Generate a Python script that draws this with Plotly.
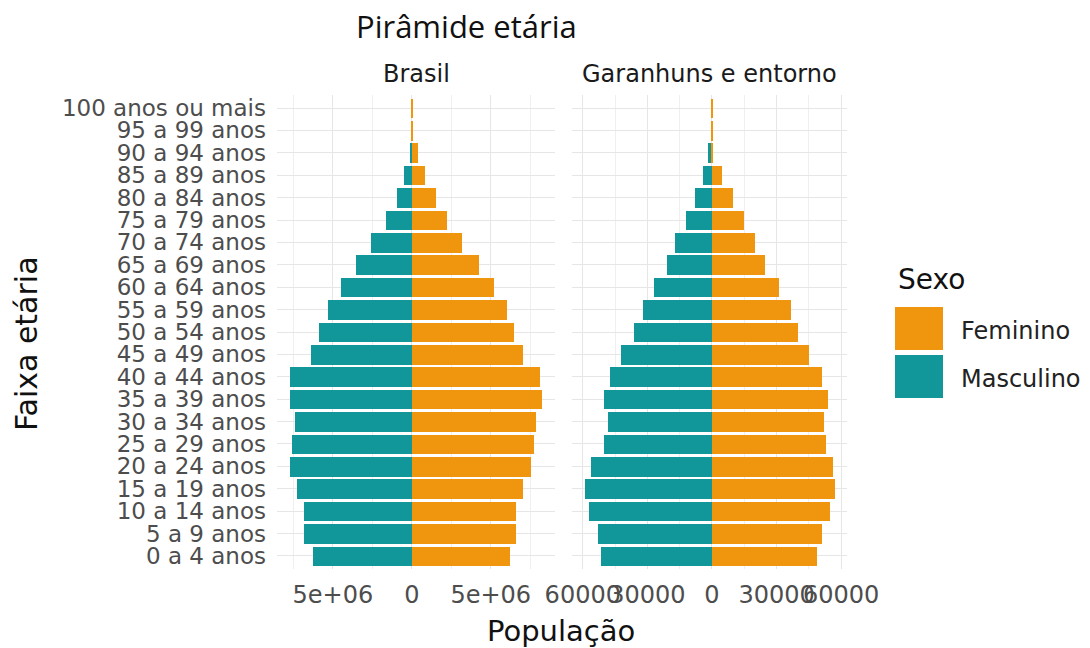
import plotly.graph_objects as go

# ---- data ----
faixas = ["0 a 4 anos", "5 a 9 anos", "10 a 14 anos", "15 a 19 anos", "20 a 24 anos",
          "25 a 29 anos", "30 a 34 anos", "35 a 39 anos", "40 a 44 anos", "45 a 49 anos",
          "50 a 54 anos", "55 a 59 anos", "60 a 64 anos", "65 a 69 anos", "70 a 74 anos",
          "75 a 79 anos", "80 a 84 anos", "85 a 89 anos", "90 a 94 anos", "95 a 99 anos",
          "100 anos ou mais"]

brasil_masc = [6.28e6, 6.84e6, 6.84e6, 7.26e6, 7.69e6, 7.56e6, 7.43e6, 7.69e6, 7.74e6, 6.41e6,
               5.88e6, 5.31e6, 4.50e6, 3.55e6, 2.59e6, 1.61e6, 0.93e6, 0.51e6, 0.09e6, 0.04e6,
               0.01e6]
brasil_fem = [6.22e6, 6.60e6, 6.62e6, 7.04e6, 7.56e6, 7.71e6, 7.88e6, 8.27e6, 8.15e6, 7.05e6,
              6.45e6, 6.05e6, 5.22e6, 4.27e6, 3.18e6, 2.23e6, 1.55e6, 0.85e6, 0.38e6, 0.10e6,
              0.02e6]

gar_masc = [51400, 53100, 57200, 59200, 56000, 50300, 48300, 50300, 47200, 42100,
            36000, 32000, 27100, 20900, 17000, 12060, 8040, 4330, 1900, 300, 100]
gar_fem = [49000, 51000, 54900, 56900, 56000, 53100, 52100, 54100, 51000, 44900,
           39800, 36800, 30900, 24700, 19800, 15000, 9740, 4640, 400, 400, 150]

paineis = ["Brasil", "Garanhuns e entorno"]
sexos = ["Feminino", "Masculino"]
cores = {"Feminino": "#F0960E", "Masculino": "#11979A"}

brasil_ticks = [-5e6, 0, 5e6]
brasil_ticktext = ["5e+06", "0", "5e+06"]
brasil_minor = [-7.5e6, -2.5e6, 2.5e6, 7.5e6]
gar_ticks = [-60000, -30000, 0, 30000, 60000]
gar_ticktext = ["60000", "30000", "0", "30000", "60000"]
gar_minor = [-45000, -15000, 15000, 45000]

# ---- layout geometry (pixels) ----
W, H = 1090, 648
def px(x):
    return x / W
def py(y):
    return 1 - y / H

panel_top, panel_bot = 94.6, 569.4
left_dom = [px(277), px(555)]
right_dom = [px(572), px(847)]

def expanded(neg, pos):
    lo = -max(neg)
    hi = max(pos)
    pad = 0.05 * (hi - lo)
    return [lo - pad, hi + pad]

fig = go.Figure()

bar_w = 0.88
for masc, fem, xa, ya in [(brasil_masc, brasil_fem, "x", "y"), (gar_masc, gar_fem, "x2", "y2")]:
    fig.add_trace(go.Bar(y=faixas, x=[-v for v in masc], orientation="h", width=bar_w,
                         marker=dict(color=cores["Masculino"], line=dict(width=0)),
                         name="Masculino", showlegend=False, xaxis=xa, yaxis=ya))
    fig.add_trace(go.Bar(y=faixas, x=fem, orientation="h", width=bar_w,
                         marker=dict(color=cores["Feminino"], line=dict(width=0)),
                         name="Feminino", showlegend=False, xaxis=xa, yaxis=ya))

tickfont = dict(family="DejaVu Sans", size=24, color="#4D4D4D")
ytickfont = dict(family="DejaVu Sans", size=23, color="#4D4D4D")
grid_major = dict(showgrid=True, gridcolor="#E6E6E6", gridwidth=1.4)
minor_cfg = lambda vals: dict(tickmode="array", tickvals=vals, showgrid=True,
                              gridcolor="#EFEFEF", gridwidth=0.8, ticks="")

fig.update_layout(
    width=W, height=H,
    margin=dict(l=0, r=0, t=0, b=0),
    paper_bgcolor="white", plot_bgcolor="white",
    barmode="relative", bargap=0,
    showlegend=False,
    xaxis=dict(domain=left_dom, range=expanded(brasil_masc, brasil_fem),
               tickmode="array", tickvals=brasil_ticks, ticktext=brasil_ticktext,
               tickfont=tickfont, tickangle=0, zeroline=False, ticklabelstandoff=9,
               minor=minor_cfg(brasil_minor), anchor="y", automargin=False, fixedrange=True,
               **grid_major),
    xaxis2=dict(domain=right_dom, range=expanded(gar_masc, gar_fem),
                tickmode="array", tickvals=gar_ticks, ticktext=gar_ticktext,
                tickfont=tickfont, tickangle=0, zeroline=False, ticklabelstandoff=9,
                minor=minor_cfg(gar_minor), anchor="y2", automargin=False, fixedrange=True,
                **grid_major),
    yaxis=dict(domain=[py(panel_bot), py(panel_top)], categoryorder="array",
               categoryarray=faixas, range=[-0.6, len(faixas) - 0.4],
               tickmode="array", tickvals=faixas, ticktext=faixas,
               tickfont=ytickfont, tickangle=0, anchor="x", automargin=False,
               ticklabelstandoff=10, zeroline=False, fixedrange=True, **grid_major),
    yaxis2=dict(domain=[py(panel_bot), py(panel_top)], categoryorder="array",
                categoryarray=faixas, range=[-0.6, len(faixas) - 0.4],
                tickmode="array", tickvals=faixas,
                showticklabels=False, anchor="x2", matches="y", automargin=False,
                zeroline=False, fixedrange=True, **grid_major),
)

ann = []
# title
ann.append(dict(text="Pirâmide etária", x=px(466), y=py(26), xref="paper", yref="paper",
                xanchor="center", yanchor="middle", showarrow=False,
                font=dict(family="Open Sans", size=31, color="#111111")))
# strip titles
for name, cx in zip(paineis, [416, 709.5]):
    ann.append(dict(text=name, x=px(cx), y=py(74), xref="paper", yref="paper",
                    xanchor="center", yanchor="middle", showarrow=False,
                    font=dict(family="DejaVu Sans", size=24, color="#1A1A1A")))
# axis titles
ann.append(dict(text="População", x=px(561), y=py(631), xref="paper", yref="paper",
                xanchor="center", yanchor="middle", showarrow=False,
                font=dict(family="DejaVu Sans", size=29, color="#111111")))
ann.append(dict(text="Faixa etária", x=px(26), y=py(344), xref="paper", yref="paper",
                xanchor="center", yanchor="middle", showarrow=False, textangle=-90,
                font=dict(family="DejaVu Sans", size=30, color="#111111")))
# legend
ann.append(dict(text="Sexo", x=px(896), y=py(280), xref="paper", yref="paper",
                xanchor="left", yanchor="middle", showarrow=False,
                font=dict(family="DejaVu Sans", size=28, color="#111111")))
shapes = []
key_tops = [307, 355]
for sexo, top in zip(sexos, key_tops):
    shapes.append(dict(type="rect", xref="paper", yref="paper",
                       x0=px(895), x1=px(943), y0=py(top + 43), y1=py(top),
                       fillcolor=cores[sexo], line=dict(width=0)))
    ann.append(dict(text=sexo, x=px(959), y=py(top + 24), xref="paper", yref="paper",
                    xanchor="left", yanchor="middle", showarrow=False,
                    font=dict(family="DejaVu Sans", size=24, color="#222222")))

fig.update_layout(annotations=ann, shapes=shapes)
fig.write_html("out.html", config={"displayModeBar": False},
               post_script="document.body.style.margin='0';document.body.style.padding='0';")
